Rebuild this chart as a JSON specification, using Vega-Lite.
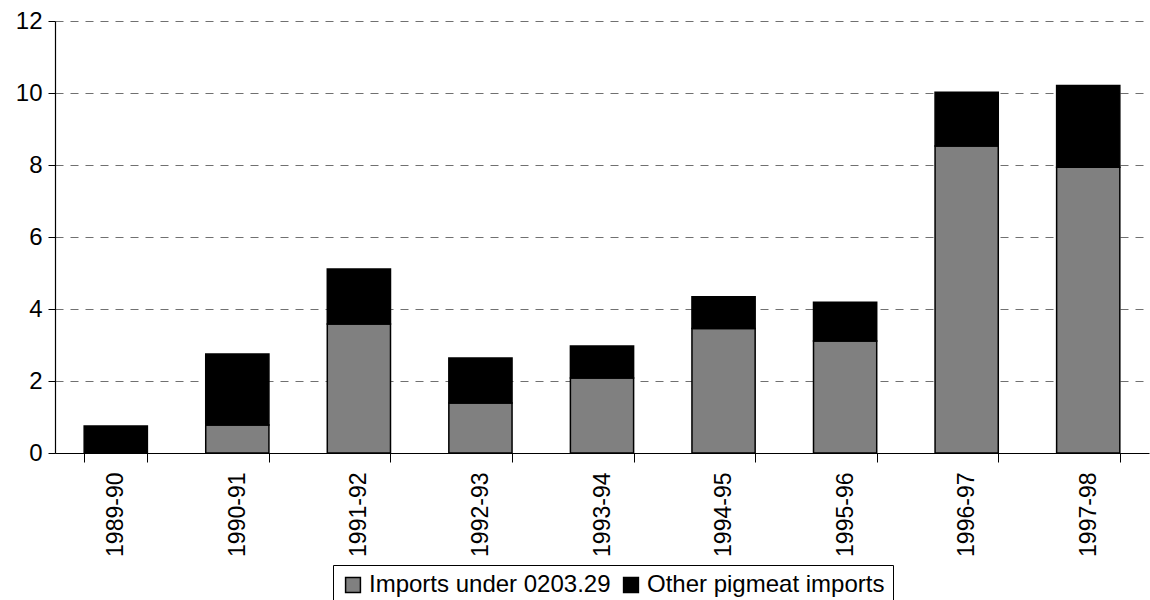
{
  "$schema": "https://vega.github.io/schema/vega-lite/v6.json",
  "autosize": "none",
  "width": 1094,
  "height": 432,
  "padding": {"left": 55, "top": 21, "right": 1, "bottom": 147},
  "background": "white",
  "config": {
    "font": "Liberation Sans",
    "view": {"stroke": null}
  },
  "data": {
    "values": [
      {"year": "1989-90", "series": "Other pigmeat imports", "value": 0.75},
      {"year": "1990-91", "series": "Imports under 0203.29", "value": 0.78},
      {"year": "1990-91", "series": "Other pigmeat imports", "value": 1.97},
      {"year": "1991-92", "series": "Imports under 0203.29", "value": 3.58},
      {"year": "1991-92", "series": "Other pigmeat imports", "value": 1.53},
      {"year": "1992-93", "series": "Imports under 0203.29", "value": 1.39},
      {"year": "1992-93", "series": "Other pigmeat imports", "value": 1.25},
      {"year": "1993-94", "series": "Imports under 0203.29", "value": 2.08},
      {"year": "1993-94", "series": "Other pigmeat imports", "value": 0.89},
      {"year": "1994-95", "series": "Imports under 0203.29", "value": 3.46},
      {"year": "1994-95", "series": "Other pigmeat imports", "value": 0.88},
      {"year": "1995-96", "series": "Imports under 0203.29", "value": 3.11},
      {"year": "1995-96", "series": "Other pigmeat imports", "value": 1.08},
      {"year": "1996-97", "series": "Imports under 0203.29", "value": 8.53},
      {"year": "1996-97", "series": "Other pigmeat imports", "value": 1.49},
      {"year": "1997-98", "series": "Imports under 0203.29", "value": 7.94},
      {"year": "1997-98", "series": "Other pigmeat imports", "value": 2.27}
    ]
  },
  "mark": {"type": "bar", "stroke": "black", "strokeWidth": 1.5},
  "encoding": {
    "x": {
      "field": "year",
      "type": "nominal",
      "sort": null,
      "scale": {"paddingInner": 0.48, "paddingOuter": 0.24},
      "axis": {
        "title": null,
        "labelAngle": -90,
        "labelFontSize": 23,
        "labelColor": "black",
        "labelPadding": 10,
        "tickBand": "extent",
        "tickSize": 9,
        "tickColor": "black",
        "domainColor": "black",
        "domainWidth": 1.2,
        "tickWidth": 1
      }
    },
    "y": {
      "field": "value",
      "type": "quantitative",
      "stack": "zero",
      "scale": {"domain": [0, 12]},
      "axis": {
        "title": null,
        "values": [0, 2, 4, 6, 8, 10, 12],
        "labelFontSize": 24,
        "labelColor": "black",
        "labelPadding": 6,
        "tickSize": 7,
        "tickColor": "black",
        "domainColor": "black",
        "domainWidth": 1.2,
        "grid": true,
        "gridColor": "#707070",
        "gridDash": [8, 7],
        "gridWidth": 1.2
      }
    },
    "order": {"field": "series", "sort": "ascending"},
    "color": {
      "field": "series",
      "type": "nominal",
      "scale": {
        "domain": ["Imports under 0203.29", "Other pigmeat imports"],
        "range": ["#808080", "#000000"]
      },
      "legend": {
        "title": null,
        "orient": "none",
        "legendX": 278,
        "legendY": 544,
        "direction": "horizontal",
        "symbolType": "square",
        "symbolSize": 220,
        "symbolStrokeColor": "black",
        "symbolStrokeWidth": 1.5,
        "labelFontSize": 24,
        "labelLimit": 0,
        "labelColor": "black",
        "labelOffset": 4,
        "columnPadding": 8,
        "strokeColor": "black",
        "padding": 8,
        "fillColor": "white"
      }
    }
  }
}
